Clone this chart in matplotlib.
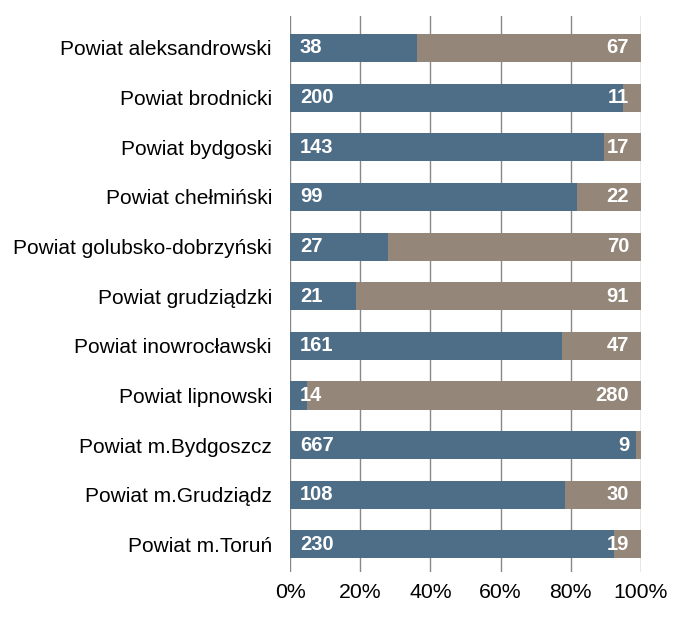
import matplotlib.pyplot as plt
import numpy as np

plt.rcParams['font.family'] = ['Liberation Sans', 'DejaVu Sans']

categories = ['Powiat aleksandrowski', 'Powiat brodnicki', 'Powiat bydgoski',
              'Powiat chełmiński', 'Powiat golubsko-dobrzyński', 'Powiat grudziądzki',
              'Powiat inowrocławski', 'Powiat lipnowski', 'Powiat m.Bydgoszcz',
              'Powiat m.Grudziądz', 'Powiat m.Toruń']
series_a = [38, 200, 143, 99, 27, 21, 161, 14, 667, 108, 230]
series_b = [67, 11, 17, 22, 70, 91, 47, 280, 9, 30, 19]

a = np.array(series_a, dtype=float)
b = np.array(series_b, dtype=float)
tot = a + b
pa = a / tot * 100
pb = b / tot * 100

fig = plt.figure(figsize=(6.91, 6.19), dpi=100)
ax = fig.add_axes([0.4197, 0.0759, 0.5079, 0.8983])

y = np.arange(len(categories))
blue = '#4E6D86'
tan = '#948779'
ax.barh(y, pa, height=0.565, color=blue, zorder=2)
ax.barh(y, pb, left=pa, height=0.565, color=tan, zorder=2)

for i in range(len(categories)):
    ax.text(2.8, y[i], str(series_a[i]), color='white', fontweight='bold',
            fontsize=14.5, va='center', ha='left', zorder=3)
    ax.text(96.6, y[i], str(series_b[i]), color='white', fontweight='bold',
            fontsize=14.5, va='center', ha='right', zorder=3)

ax.set_xlim(0, 100)
ax.set_ylim(len(categories) - 1 + 0.556, -0.645)
ax.set_xticks([0, 20, 40, 60, 80, 100])
ax.set_xticklabels(['0%', '20%', '40%', '60%', '80%', '100%'], fontsize=15.3)
ax.set_yticks(y)
ax.set_yticklabels(categories, fontsize=15)
ax.tick_params(axis='y', length=0, pad=13)
ax.tick_params(axis='x', length=0, pad=8)
ax.grid(axis='x', color='#888888', linewidth=1, zorder=0)
for s in ax.spines.values():
    s.set_visible(False)

fig.savefig('out.png', dpi=100)
